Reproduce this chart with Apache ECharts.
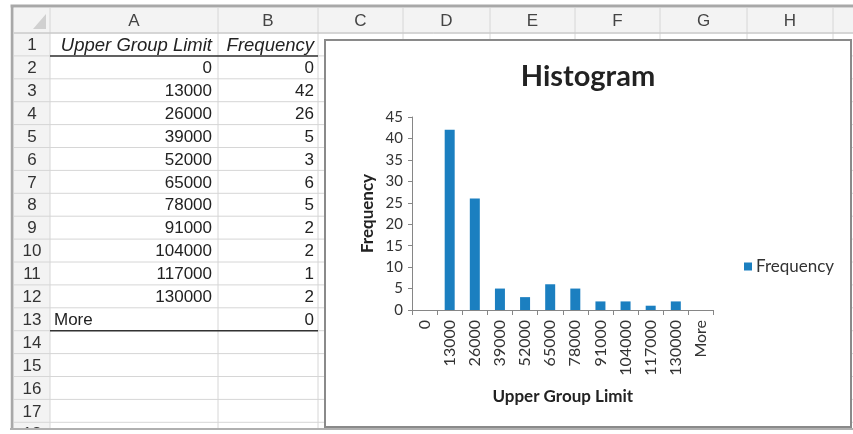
<!DOCTYPE html>
<html>
<head>
<meta charset="utf-8">
<script src="https://cdn.jsdelivr.net/npm/echarts@6/dist/echarts.min.js"></script>
<style>
html,body{margin:0;padding:0;background:#fff;}
#chart{width:853px;height:434px;}
</style>
</head>
<body>
<div id="chart"></div>
<script>
// ---- data ----
const categories = ['0','13000','26000','39000','52000','65000','78000','91000','104000','117000','130000','More'];
const frequency = [0,42,26,5,3,6,5,2,2,1,2,0];
const columnLetters = ['A','B','C','D','E','F','G','H'];
const headerLabels = ['Upper Group Limit','Frequency'];
const rowNumbers = ['1','2','3','4','5','6','7','8','9','10','11','12','13','14','15','16','17','18'];
const yMax = 45;
const yStep = 5;

// ---- spreadsheet geometry ----
const colEdges = [50,218,318,403,490,575,660,747,833,900];
const headerTop = 8, headerBottom = 33, rowH = 22.9;
const rowTop = i => headerBottom + i * rowH;
const cellFont = '17px "Liberation Sans", Arial, sans-serif';
const headFont = 'italic 18.5px "Liberation Sans", Arial, sans-serif';
const g = [];
const Z = -10;

// header band & row number band
g.push({type:'rect', z:Z, shape:{x:14,y:headerTop,width:853,height:headerBottom-headerTop}, style:{fill:'#f3f3f3'}});
g.push({type:'rect', z:Z, shape:{x:14,y:headerTop,width:colEdges[0]-14,height:434}, style:{fill:'#f3f3f3'}});
// corner triangle
g.push({type:'polygon', z:Z, shape:{points:[[46,14],[46,29],[33,29]]}, style:{fill:'#d0d0d0'}});
// vertical grid lines
colEdges.forEach(x => {
  g.push({type:'line', z:Z, shape:{x1:x,y1:headerTop,x2:x,y2:434}, style:{stroke:'#d6d6d6',lineWidth:1}});
});
// horizontal grid lines
for (let i = 0; i <= rowNumbers.length; i++) {
  const y = rowTop(i);
  g.push({type:'line', z:Z, shape:{x1:14,y1:y,x2:853,y2:y}, style:{stroke:'#d6d6d6',lineWidth:1}});
}
g.push({type:'line', z:Z, shape:{x1:14,y1:headerBottom,x2:853,y2:headerBottom}, style:{stroke:'#c4c4c4',lineWidth:1}});
// column letters
columnLetters.forEach((c, i) => {
  g.push({type:'text', z:Z, style:{text:c, x:(colEdges[i]+colEdges[i+1])/2, y:(headerTop+headerBottom)/2+1, align:'center', verticalAlign:'middle', font:'17px "Liberation Sans", Arial, sans-serif', fill:'#444'}});
});
// row numbers
rowNumbers.forEach((r, i) => {
  g.push({type:'text', z:Z, style:{text:r, x:32, y:rowTop(i)+rowH/2+1, align:'center', verticalAlign:'middle', font:cellFont, fill:'#333'}});
});
// header cells
g.push({type:'text', z:Z, style:{text:headerLabels[0], x:colEdges[1]-6, y:rowTop(0)+rowH/2+1, align:'right', verticalAlign:'middle', font:headFont, fill:'#222'}});
g.push({type:'text', z:Z, style:{text:headerLabels[1], x:colEdges[2]-4, y:rowTop(0)+rowH/2+1, align:'right', verticalAlign:'middle', font:headFont, fill:'#222'}});
// data cells
categories.forEach((c, i) => {
  const isNum = !isNaN(Number(c));
  g.push({type:'text', z:Z, style:{text:c, x:isNum ? colEdges[1]-6 : colEdges[0]+4, y:rowTop(i+1)+rowH/2+1, align:isNum?'right':'left', verticalAlign:'middle', font:cellFont, fill:'#222'}});
  g.push({type:'text', z:Z, style:{text:String(frequency[i]), x:colEdges[2]-4, y:rowTop(i+1)+rowH/2+1, align:'right', verticalAlign:'middle', font:cellFont, fill:'#222'}});
});
// table underlines
g.push({type:'line', z:Z, shape:{x1:colEdges[0],y1:rowTop(1),x2:colEdges[2],y2:rowTop(1)}, style:{stroke:'#333',lineWidth:1.5}});
g.push({type:'line', z:Z, shape:{x1:colEdges[0],y1:rowTop(categories.length+1),x2:colEdges[2],y2:rowTop(categories.length+1)}, style:{stroke:'#333',lineWidth:1.5}});
// outer frame
g.push({type:'rect', z:Z, shape:{x:0,y:0,width:853,height:6}, style:{fill:'#fff'}});
g.push({type:'line', z:Z, shape:{x1:10,y1:6,x2:853,y2:6}, style:{stroke:'#a8a8a8',lineWidth:3}});
g.push({type:'line', z:Z, shape:{x1:12,y1:6,x2:12,y2:430}, style:{stroke:'#a8a8a8',lineWidth:3}});
g.push({type:'rect', z:Z, shape:{x:0,y:0,width:10.5,height:434}, style:{fill:'#fff'}});
g.push({type:'rect', z:Z, shape:{x:0,y:429,width:853,height:5}, style:{fill:'#fff'}});
g.push({type:'line', z:Z, shape:{x1:10,y1:429,x2:853,y2:429}, style:{stroke:'#b0b0b0',lineWidth:2}});
// chart box
g.push({type:'rect', z:-5, shape:{x:325,y:40,width:526,height:387}, style:{fill:'#fff', stroke:'#8a8a8a', lineWidth:2}});

const chart = echarts.init(document.getElementById('chart'), null, {renderer:'canvas'});
const font = 'Lato, "Open Sans", sans-serif';
chart.setOption({
  animation:false,
  backgroundColor:'transparent',
  graphic:{elements:g},
  title:{text:'Histogram', left:583, top:57, textAlign:'center',
    textStyle:{fontFamily:font, fontSize:29, fontWeight:'bold', color:'#222'}},
  legend:{data:['Frequency'], left:739, top:253, icon:'rect', itemWidth:8, itemHeight:8, itemGap:5,
    textStyle:{fontFamily:font, fontSize:17, color:'#333', padding:[0,0,0,-1]}},
  grid:{left:412, right:139.5, top:117, bottom:124, containLabel:false},
  xAxis:{type:'category', data:categories, boundaryGap:true,
    name:'Upper Group Limit', nameLocation:'middle', nameGap:78,
    nameTextStyle:{fontFamily:font, fontSize:17, fontWeight:'bold', color:'#222'},
    axisLine:{lineStyle:{color:'#868686', width:1}},
    axisTick:{show:true, length:5, interval:0, lineStyle:{color:'#868686'}},
    axisLabel:{rotate:90, interval:0, margin:10, fontFamily:font, fontSize:16, color:'#333'}},
  yAxis:{type:'value', min:0, max:yMax, interval:yStep,
    name:'Frequency', nameLocation:'middle', nameRotate:90, nameGap:36,
    nameTextStyle:{fontFamily:font, fontSize:17, fontWeight:'bold', color:'#222'},
    axisLine:{show:true, lineStyle:{color:'#868686', width:1}},
    axisTick:{show:true, length:4, lineStyle:{color:'#868686'}},
    splitLine:{show:false},
    axisLabel:{margin:9, fontFamily:font, fontSize:15, color:'#333'}},
  series:[{name:'Frequency', type:'bar', data:frequency, barWidth:10,
    itemStyle:{color:'#1b7fc0'}}]
});
</script>
</body>
</html>
